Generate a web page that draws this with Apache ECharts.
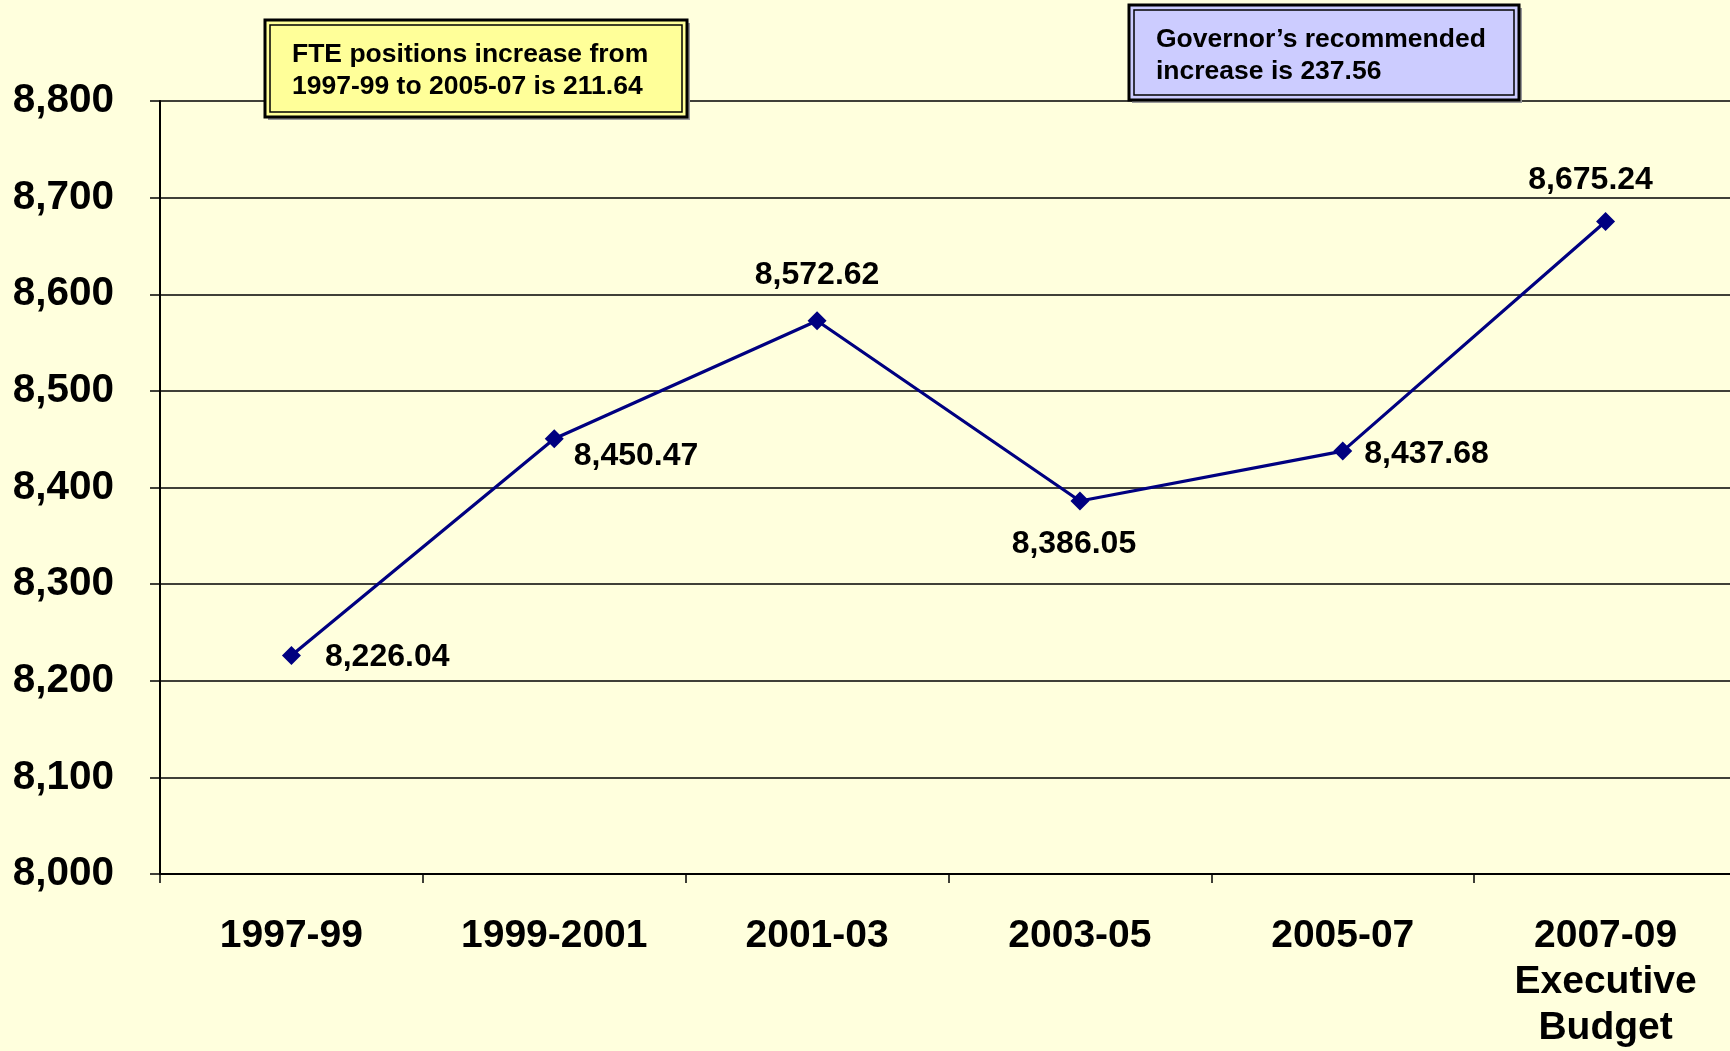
<!DOCTYPE html>
<html>
<head>
<meta charset="utf-8">
<script src="https://cdn.jsdelivr.net/npm/echarts@6/dist/echarts.min.js"></script>
<style>
  html, body { margin: 0; padding: 0; background: #ffffdd; }
  #chart { width: 1730px; height: 1051px; }
</style>
</head>
<body>
<div id="chart"></div>
<script>
const categories = ["1997-99", "1999-2001", "2001-03", "2003-05", "2005-07", "2007-09\nExecutive\nBudget"];
const fteValues = [8226.04, 8450.47, 8572.62, 8386.05, 8437.68, 8675.24];
const yMin = 8000;
const yMax = 8800;
const yStep = 100;
const noteLeft = ["FTE positions increase from", "1997-99 to 2005-07 is 211.64"];
const noteRight = ["Governor\u2019s recommended", "increase is 237.56"];

const FONT = "'Liberation Sans', Arial, sans-serif";

// where each value label sits next to its point
const labelSpots = [
  { position: "right", distance: 24, offset: [0, 2] },
  { position: "right", distance: 10, offset: [0, 17] },
  { position: "top", distance: 20, offset: [0, 0] },
  { position: "bottom", distance: 18, offset: [-6, 0] },
  { position: "right", distance: 12, offset: [0, 3] },
  { position: "top", distance: 16, offset: [-15, 0] },
];

const fmt = (v) =>
  v.toLocaleString("en-US", { minimumFractionDigits: 2, maximumFractionDigits: 2 });

function noteBox(x, y, w, h, fill, lines, tx, ty) {
  return [
    {
      type: "rect",
      shape: { x: x + 3, y: y + 3, width: w, height: h },
      style: { fill: "#999999" },
      z: 10,
    },
    {
      type: "rect",
      shape: { x: x, y: y, width: w, height: h },
      style: { fill: fill, stroke: "#000", lineWidth: 3 },
      z: 11,
    },
    {
      type: "rect",
      shape: { x: x + 5, y: y + 5, width: w - 10, height: h - 10 },
      style: { fill: "none", stroke: "#000", lineWidth: 1.5 },
      z: 12,
    },
    {
      type: "text",
      x: tx,
      y: ty,
      style: {
        text: lines.join("\n"),
        font: "bold 26.5px " + FONT,
        lineHeight: 32,
        fill: "#000",
      },
      z: 13,
    },
  ];
}

const chart = echarts.init(document.getElementById("chart"));
chart.setOption({
  backgroundColor: "#ffffdd",
  animation: false,
  // plot runs past the right edge of the page, like the original
  grid: { left: 160, right: -7, top: 101, bottom: 177, outerBoundsMode: "none", containLabel: false },
  xAxis: {
    type: "category",
    data: categories,
    boundaryGap: true,
    axisLine: { lineStyle: { color: "#000", width: 2 } },
    axisTick: { show: true, length: 9, inside: false, lineStyle: { color: "#000", width: 1.5 } },
    axisLabel: {
      color: "#000",
      fontFamily: FONT,
      fontWeight: "bold",
      fontSize: 39,
      lineHeight: 46,
      margin: 39,
      interval: 0,
    },
  },
  yAxis: {
    type: "value",
    min: yMin,
    max: yMax,
    interval: yStep,
    axisLine: { show: true, lineStyle: { color: "#000", width: 2 } },
    axisTick: { show: true, length: 10, lineStyle: { color: "#000", width: 1.5 } },
    splitLine: { show: true, lineStyle: { color: "#000", width: 1.5 } },
    axisLabel: {
      color: "#000",
      fontFamily: FONT,
      fontWeight: "bold",
      fontSize: 40.5,
      margin: 46,
      formatter: (v) => v.toLocaleString("en-US"),
    },
  },
  series: [
    {
      type: "line",
      data: fteValues.map((v, i) => ({
        value: v,
        label: labelSpots[i],
      })),
      symbol: "diamond",
      symbolSize: 19,
      lineStyle: { color: "#000080", width: 3.2 },
      itemStyle: { color: "#000080" },
      label: {
        show: true,
        color: "#000",
        fontFamily: FONT,
        fontWeight: "bold",
        fontSize: 32,
        formatter: (p) => fmt(p.value),
      },
    },
  ],
  graphic: [
    ...noteBox(265, 20, 422, 97, "#ffff99", noteLeft, 292, 39),
    ...noteBox(1129, 5, 390, 95, "#ccccff", noteRight, 1156, 24),
  ],
});
</script>
</body>
</html>
